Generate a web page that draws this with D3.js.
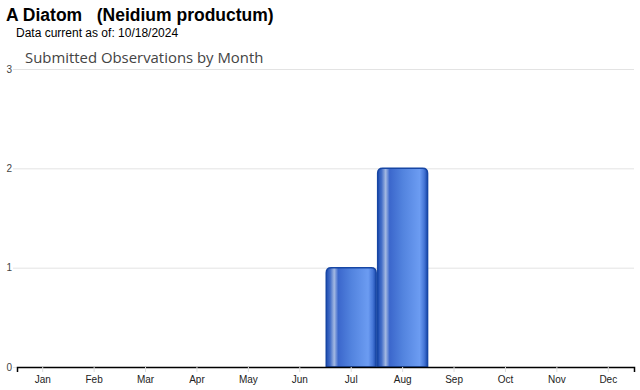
<!DOCTYPE html>
<html>
<head>
<meta charset="utf-8">
<script src="https://cdn.jsdelivr.net/npm/d3@7"></script>
<style>
  body { margin: 0; background: #fff; }
  svg { display: block; }
</style>
</head>
<body>
<div id="chart"></div>
<script>
// Chart data
const months = ["Jan", "Feb", "Mar", "Apr", "May", "Jun", "Jul", "Aug", "Sep", "Oct", "Nov", "Dec"];
const observations = [0, 0, 0, 0, 0, 0, 1, 2, 0, 0, 0, 0];
const yTicks = [0, 1, 2, 3];

const W = 640, H = 390;
const margin = { top: 69, right: 6, bottom: 23, left: 17 };
const width = W - margin.left - margin.right;
const height = H - margin.top - margin.bottom;

const svg = d3.select("#chart")
    .append("svg")
    .attr("width", W)
    .attr("height", H);

// Gradient for the bars
const defs = svg.append("defs");
const grad = defs.append("linearGradient")
    .attr("id", "barGrad")
    .attr("x1", "0%").attr("x2", "100%")
    .attr("y1", "0%").attr("y2", "0%");
[
    [0, "#1c4bb0"],
    [0.08, "#456fc8"],
    [0.16, "#a4b9e2"],
    [0.24, "#3b67cc"],
    [0.5, "#5283de"],
    [0.84, "#6c9cf2"],
    [0.93, "#4677d8"],
    [1, "#1a48aa"]
].forEach(([o, c]) => grad.append("stop").attr("offset", o).attr("stop-color", c));

// Titles
svg.append("text")
    .attr("x", 6).attr("y", 21)
    .style("font-family", "Liberation Sans, Arial, sans-serif")
    .style("font-size", "17.5px")
    .style("font-weight", "bold")
    .attr("xml:space", "preserve")
    .text("A Diatom   (Neidium productum)");

svg.append("text")
    .attr("x", 16).attr("y", 37)
    .style("font-family", "Liberation Sans, Arial, sans-serif")
    .style("font-size", "12px")
    .text("Data current as of: 10/18/2024");

svg.append("text")
    .attr("x", 25).attr("y", 63)
    .style("font-family", "Open Sans, DejaVu Sans, sans-serif")
    .style("font-size", "14.9px")
    .style("fill", "#444")
    .text("Submitted Observations by Month");

const g = svg.append("g")
    .attr("transform", `translate(${margin.left}, ${margin.top})`);

// Scales
const xScale = d3.scaleBand()
    .domain(months)
    .range([0, width])
    .padding(0);

const yScale = d3.scaleLinear()
    .domain([0, 3])
    .range([height, 0]);

// Gridlines and y labels
const yAxis = d3.axisLeft(yScale)
    .tickValues(yTicks)
    .tickSize(-width - 4)
    .tickFormat(d3.format("d"));

g.append("g")
    .attr("transform", "translate(-4, 0)")
    .call(yAxis)
    .call(s => s.select(".domain").remove())
    .call(s => s.selectAll(".tick line").attr("stroke", "#e3e3e3"))
    .call(s => s.selectAll(".tick text")
        .attr("x", -1)
        .style("font-family", "Liberation Sans, Arial, sans-serif")
        .style("font-size", "10px")
        .style("fill", "#444"));

// Bars
const r = 5;
g.selectAll(".bar")
    .data(months.map((m, i) => ({ month: m, value: observations[i] })).filter(d => d.value > 0))
    .enter()
    .append("path")
    .attr("class", "bar")
    .attr("d", d => {
        const x0 = xScale(d.month) + 0.75, x1 = xScale(d.month) + xScale.bandwidth() - 0.75;
        const y0 = yScale(d.value), y1 = yScale(0);
        return `M${x0},${y1} L${x0},${y0 + r} Q${x0},${y0} ${x0 + r},${y0} L${x1 - r},${y0} Q${x1},${y0} ${x1},${y0 + r} L${x1},${y1} Z`;
    })
    .attr("fill", "url(#barGrad)")
    .attr("stroke", "#1746a4")
    .attr("stroke-width", 1.5);

// X axis
const xAxis = d3.axisBottom(xScale).tickSize(5).tickPadding(4);
g.append("g")
    .attr("transform", `translate(0, ${height})`)
    .call(xAxis)
    .call(s => s.select(".domain").attr("stroke", "#000").attr("stroke-width", 1.5))
    .call(s => s.selectAll(".tick line").attr("stroke", "#ddd"))
    .call(s => s.selectAll(".tick text")
        .style("font-family", "Liberation Sans, Arial, sans-serif")
        .style("font-size", "10px")
        .style("fill", "#222"));
</script>
</body>
</html>
